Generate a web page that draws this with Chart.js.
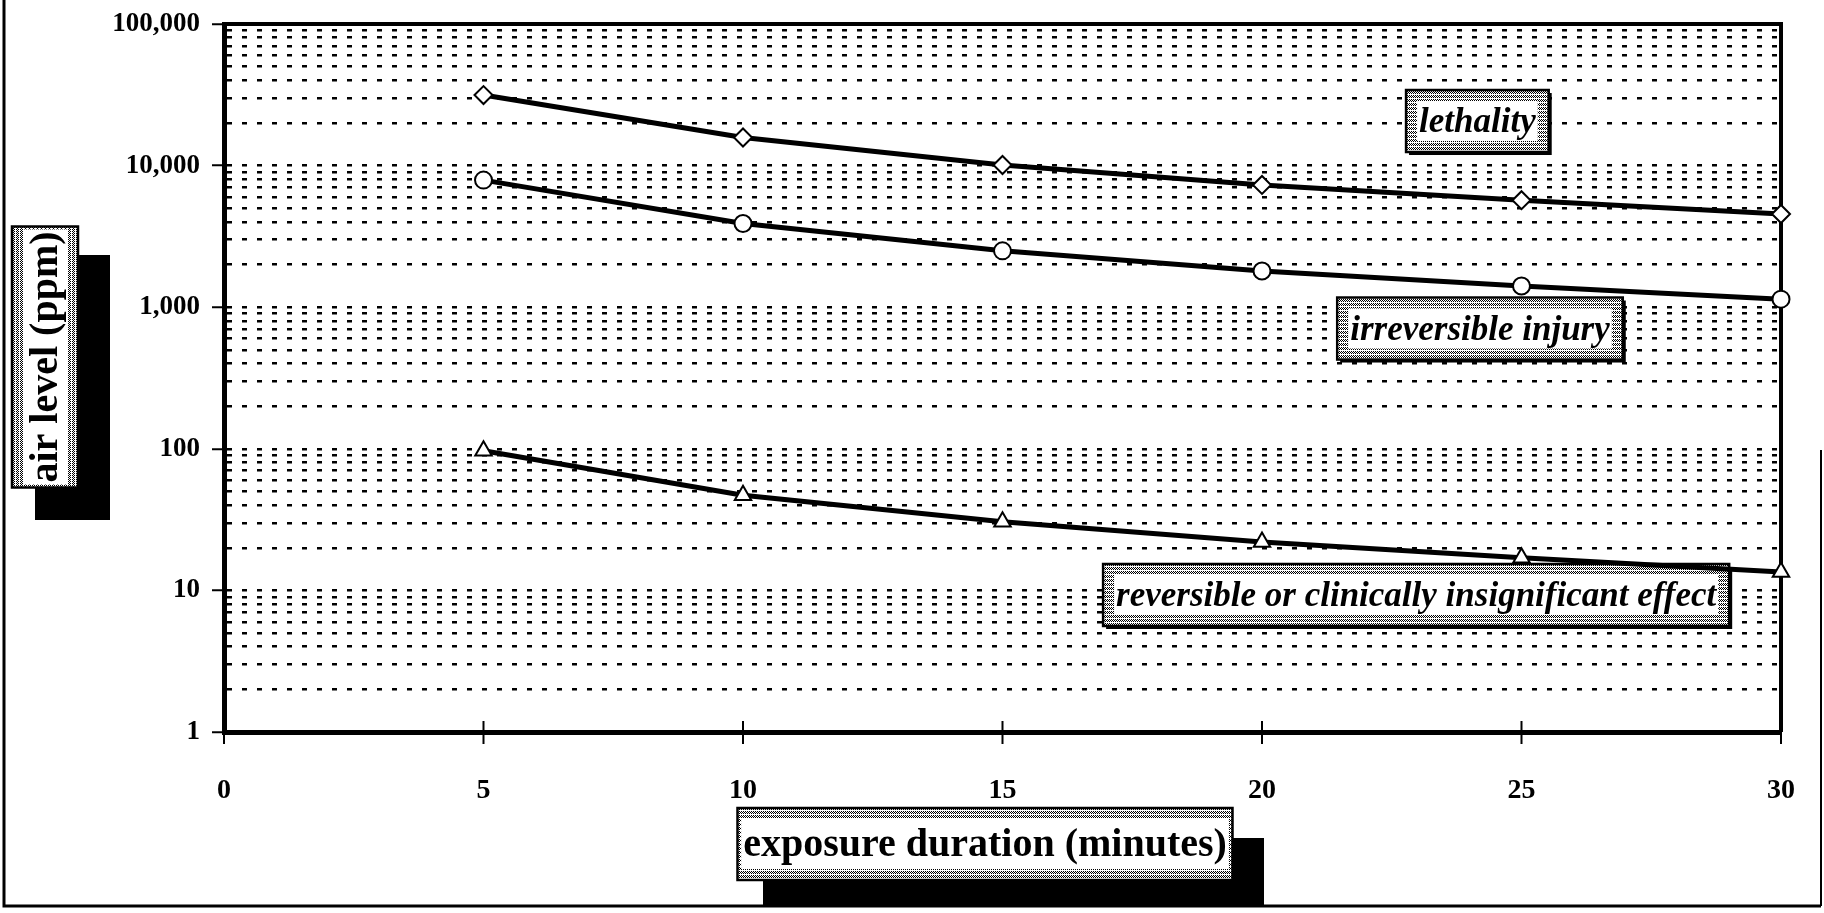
<!DOCTYPE html>
<html>
<head>
<meta charset="utf-8">
<script src="https://cdn.jsdelivr.net/npm/chart.js@4.4.0/dist/chart.umd.min.js"></script>
<style>
  html, body { margin: 0; padding: 0; background: #fff; }
  #wrap { width: 1824px; height: 913px; }
</style>
</head>
<body>
<div id="wrap"><canvas id="chart" width="1824" height="913"></canvas></div>
<script>
// exposure duration (minutes)
const minutes = [5, 10, 15, 20, 25, 30];
// air level (ppm)
const lethality = [31500, 15800, 10100, 7300, 5700, 4550];
const irreversibleInjury = [7900, 3900, 2500, 1800, 1410, 1140];
const reversibleEffect = [97, 47, 30.5, 22, 17, 13.5];

const xTicks = [0, 5, 10, 15, 20, 25, 30];
const yDecades = [1, 10, 100, 1000, 10000, 100000];

const FONT = "'Liberation Serif', 'Times New Roman', serif";

// grid values 1,2,...9,10,20,... up to 100,000
const yGrid = [];
yDecades.forEach(d => {
    for (let m = 1; m <= 9; m++) {
        if (d * m <= 100000) yGrid.push(d * m);
    }
});

// stippled fill like the scanned label boxes
function stipplePattern(ctx) {
    const c = document.createElement('canvas');
    c.width = 4; c.height = 4;
    const g = c.getContext('2d');
    g.fillStyle = '#fff';
    g.fillRect(0, 0, 4, 4);
    g.fillStyle = '#000';
    for (let y = 0; y < 4; y++) {
        for (let x = 0; x < 4; x++) {
            if ((x + y) % 2 === 0 && !(y === 2 && (x === 0 || x === 2))) g.fillRect(x, y, 1, 1);
        }
    }
    return ctx.createPattern(c, 'repeat');
}

// box with stipple, white band behind the text and a black outline
function labelBox(ctx, cx, cy, w, h, text, font) {
    ctx.save();
    ctx.fillStyle = stipplePattern(ctx);
    ctx.fillRect(cx - w / 2, cy - h / 2, w, h);
    ctx.font = font;
    const tw = ctx.measureText(text).width;
    ctx.fillStyle = '#fff';
    ctx.fillRect(cx - tw / 2 - 2, cy - h / 2 + 11, tw + 4, h - 22);
    ctx.strokeStyle = '#000';
    ctx.lineWidth = 2.5;
    ctx.strokeRect(cx - w / 2, cy - h / 2, w, h);
    ctx.fillStyle = '#000';
    ctx.textAlign = 'center';
    ctx.textBaseline = 'middle';
    ctx.fillText(text, cx, cy + 2);
    ctx.restore();
}

const curveLabels = {
    id: 'curveLabels',
    beforeDatasetsDraw(chart) {
        const {ctx, scales: {x, y}} = chart;
        const items = [
            {text: 'lethality', at: [24.15, 20650]},
            {text: 'irreversible injury', at: [24.2, 707]},
            {text: 'reversible or clinically insignificant effect', at: [22.97, 9.28]}
        ];
        const font = 'italic bold 35px ' + FONT;
        items.forEach(it => {
            const cx = x.getPixelForValue(it.at[0]);
            const cy = y.getPixelForValue(it.at[1]);
            ctx.font = font;
            const w = ctx.measureText(it.text).width + 26;
            const h = 62;
            ctx.fillStyle = '#000';
            ctx.fillRect(cx - w / 2 + 3, cy - h / 2 + 3, w, h);
            labelBox(ctx, cx, cy, w, h, it.text, font);
        });
    }
};

const frame = {
    id: 'frame',
    beforeDatasetsDraw(chart) {
        const {ctx, chartArea: a, scales: {x}} = chart;
        ctx.save();
        ctx.strokeStyle = '#000';
        ctx.lineWidth = 4;
        ctx.beginPath();
        ctx.moveTo(a.left, a.top);
        ctx.lineTo(a.right, a.top);
        ctx.lineTo(a.right, a.bottom);
        ctx.stroke();
        // x ticks cross the axis line
        ctx.lineWidth = 2;
        xTicks.forEach(v => {
            const px = x.getPixelForValue(v);
            ctx.beginPath();
            ctx.moveTo(px, a.bottom - 11);
            ctx.lineTo(px, a.bottom + 12);
            ctx.stroke();
        });
        ctx.restore();
    },
    afterDraw(chart) {
        const {ctx, width, height} = chart;
        const font = 'bold 40px ' + FONT;
        ctx.save();
        // page border
        ctx.strokeStyle = '#000';
        ctx.lineWidth = 3;
        ctx.beginPath();
        ctx.moveTo(4, 0);
        ctx.lineTo(4, height - 7);
        ctx.lineTo(width - 3, height - 7);
        ctx.stroke();
        ctx.lineWidth = 2;
        ctx.beginPath();
        ctx.moveTo(width - 3, height - 7);
        ctx.lineTo(width - 3, 450);
        ctx.stroke();

        // y axis title with drop shadow
        ctx.fillStyle = '#000';
        ctx.fillRect(35, 255, 75, 265);
        ctx.save();
        ctx.translate(45, 357);
        ctx.rotate(-Math.PI / 2);
        labelBox(ctx, 0, 0, 261, 66, 'air level (ppm)', font);
        ctx.restore();

        // x axis title with drop shadow
        ctx.fillStyle = '#000';
        ctx.fillRect(763, 838, 501, 68);
        labelBox(ctx, 985, 844, 495, 72, 'exposure duration (minutes)', font);
        ctx.restore();
    }
};

const ds = (label, data, style, radius) => ({
    label: label,
    data: minutes.map((m, i) => ({x: m, y: data[i]})),
    borderColor: '#000',
    borderWidth: 5,
    backgroundColor: '#fff',
    pointStyle: style,
    pointRadius: radius,
    pointHoverRadius: radius,
    pointBorderWidth: 2,
    pointBorderColor: '#000',
    pointBackgroundColor: '#fff',
    tension: 0,
    clip: false
});

new Chart(document.getElementById('chart'), {
    type: 'line',
    data: {
        datasets: [
            ds('lethality', lethality, 'rectRot', 9),
            ds('irreversible injury', irreversibleInjury, 'circle', 8.5),
            ds('reversible or clinically insignificant effect', reversibleEffect, 'triangle', 9.5)
        ]
    },
    options: {
        responsive: false,
        animation: false,
        devicePixelRatio: 1,
        layout: { padding: { top: 24, right: 43, left: 0, bottom: 0 } },
        plugins: { legend: { display: false }, tooltip: { enabled: false } },
        scales: {
            x: {
                type: 'linear',
                min: 0,
                max: 30,
                afterBuildTicks: s => { s.ticks = xTicks.map(v => ({value: v})); },
                afterFit: s => {
                    s.height = 181;
                    // tick padding should not widen the side margins
                    s.paddingLeft = 0;
                    s.paddingRight = 0;
                },
                grid: { drawOnChartArea: false, drawTicks: false },
                border: { display: true, color: '#000', width: 5 },
                ticks: {
                    color: '#000',
                    padding: 42,
                    maxRotation: 0,
                    autoSkip: false,
                    font: { family: FONT, size: 28, weight: 'bold' }
                }
            },
            y: {
                type: 'logarithmic',
                min: 1,
                max: 100000,
                afterBuildTicks: s => { s.ticks = yGrid.map(v => ({value: v})); },
                afterFit: s => {
                    s.width = 224;
                    s.paddingTop = 0;
                    s.paddingBottom = 0;
                },
                grid: {
                    color: '#000',
                    lineWidth: 2.5,
                    drawTicks: true,
                    tickLength: 12,
                    tickWidth: 2,
                    tickColor: c => yDecades.includes(c.tick.value) ? '#000' : 'rgba(0,0,0,0)'
                },
                border: { display: true, color: '#000', width: 5, dash: [5, 10] },
                ticks: {
                    color: '#000',
                    padding: 12,
                    autoSkip: false,
                    font: { family: FONT, size: 27, weight: 'bold' },
                    callback: v => yDecades.includes(v) ? v.toLocaleString('en-US') : ''
                }
            }
        }
    },
    plugins: [curveLabels, frame]
});
</script>
</body>
</html>
